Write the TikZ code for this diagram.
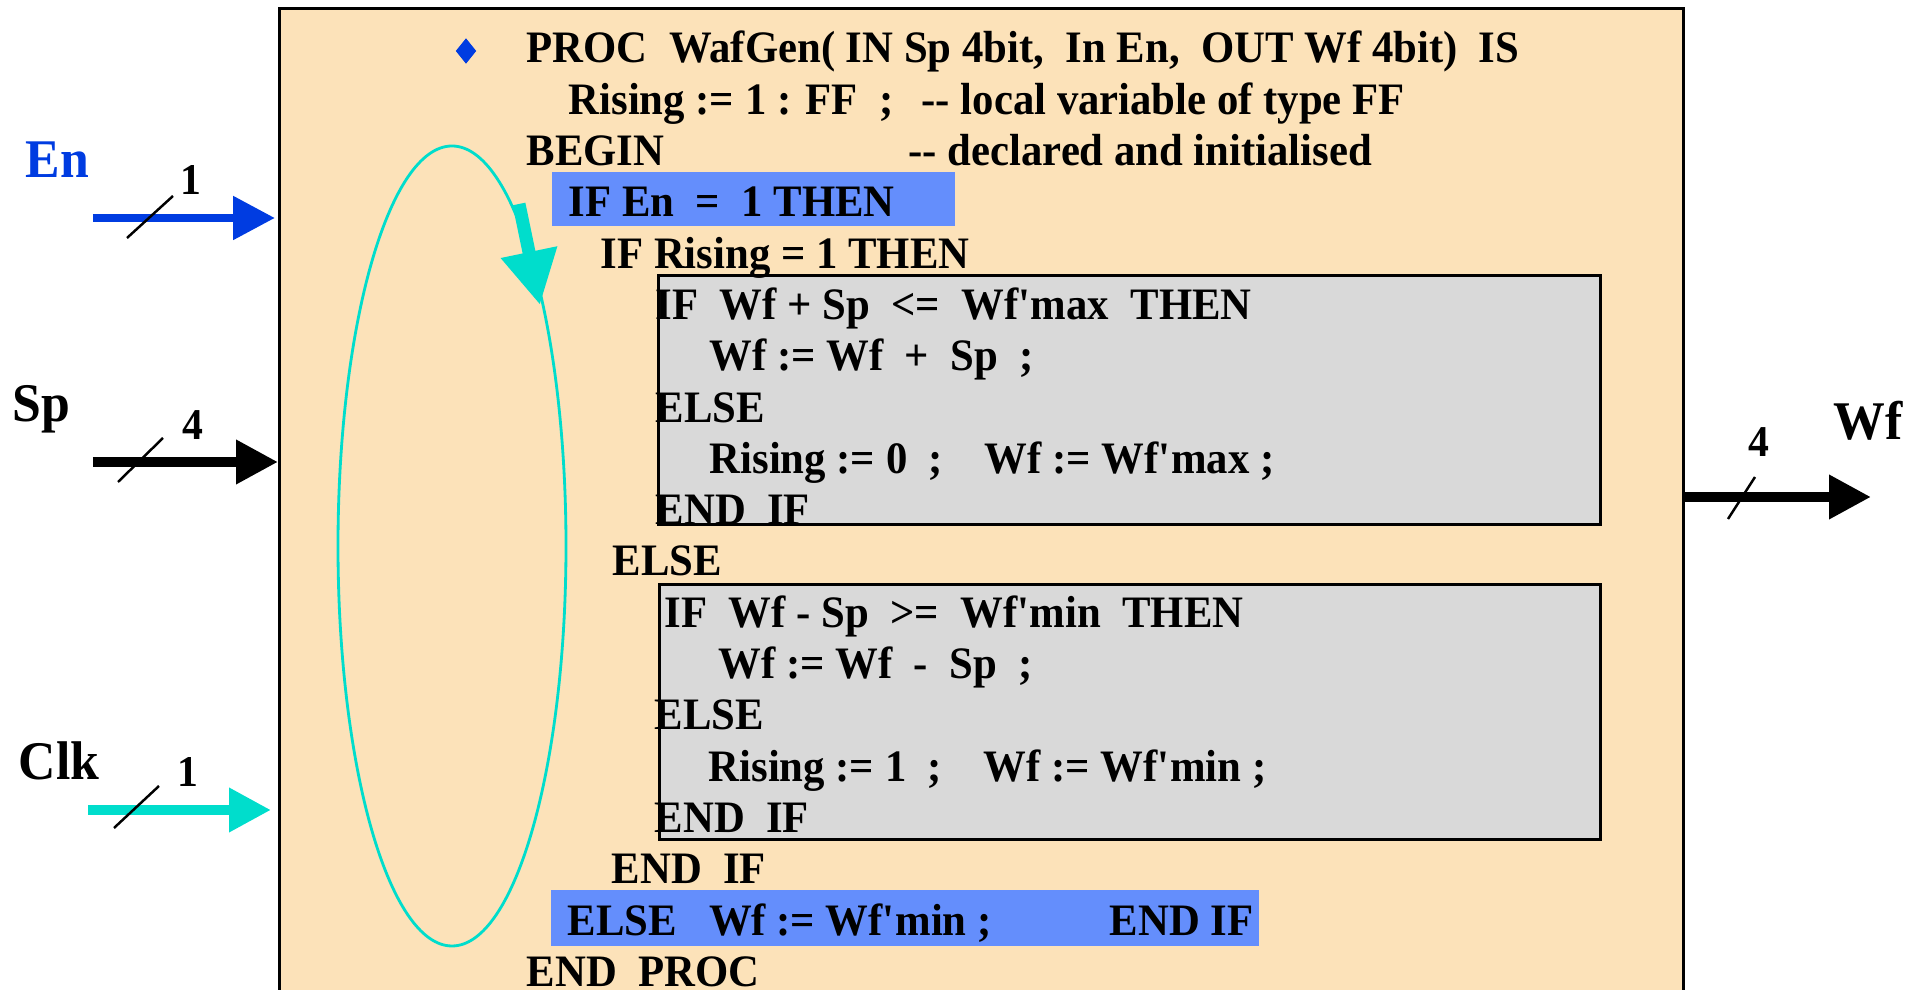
\documentclass[tikz,border=0pt]{standalone}
\usepackage{fontspec}
\setmainfont{Liberation Serif}[FakeStretch=0.95]
\usepackage{xcolor}
\usepackage{tikz}
\usetikzlibrary{shapes.geometric, arrows.meta, positioning}

\definecolor{wheatbg}{RGB}{252,226,185}
\definecolor{blockgray}{RGB}{217,217,217}
\definecolor{hlblue}{RGB}{100,142,252}
\definecolor{enblue}{RGB}{0,60,225}
\definecolor{clkcyan}{RGB}{0,221,204}

\newcommand{\apos}{\textquotesingle}

\tikzset{
    procbox/.style={rectangle, draw, line width=0.9pt, fill=wheatbg, anchor=north west, inner sep=0pt},
    ifblock/.style={rectangle, draw, line width=0.8pt, fill=blockgray, anchor=north west, inner sep=0pt},
    hilite/.style={rectangle, fill=hlblue, anchor=north west, inner sep=0pt},
    code/.style={anchor=base west, inner sep=0pt, font=\bfseries\fontsize{12.8}{15}\selectfont},
    portname/.style={anchor=base west, inner sep=0pt, font=\bfseries\fontsize{15.5}{18}\selectfont},
    buswidth/.style={anchor=base west, inner sep=0pt, font=\bfseries\fontsize{12.5}{15}\selectfont},
    busline/.style={-{Triangle[length=0.42cm, width=0.42cm]}, line width=1mm},
    slash/.style={line width=0.7pt},
    loopline/.style={draw=clkcyan, line width=0.8pt},
    looparrow/.style={-{Triangle[length=0.54cm, width=0.54cm]}, draw=clkcyan, line width=1.3mm}
}

\begin{document}
\begin{tikzpicture}
    \useasboundingbox (0,0) rectangle (19.21,9.90);
    \clip (0,0) rectangle (19.21,9.90);

    % the procedure body
    \node (proc) [procbox, minimum width=14.04cm, minimum height=10.4cm] at (2.78,9.83) {};
    \node (hl1) [hilite, minimum width=4.03cm, minimum height=0.54cm] at (5.51,8.19) {};
    \node (hl2) [hilite, minimum width=7.08cm, minimum height=0.56cm] at (5.50,1.01) {};
    \node (blk1) [ifblock, minimum width=9.42cm, minimum height=2.49cm] at (6.57,7.16) {};
    \node (blk2) [ifblock, minimum width=9.41cm, minimum height=2.55cm] at (6.58,4.07) {};

    % clock loop
    \draw[loopline] (4.52,4.44) ellipse [x radius=1.14, y radius=4.00];
    \coordinate (loop-top) at (5.19,7.86);
    \coordinate (loop-tip) at (5.40,6.85);
    \draw[looparrow] (loop-top) -- (loop-tip);

    \node (bullet) [diamond, fill=enblue, inner sep=0pt, minimum width=0.21cm, minimum height=0.26cm] at (4.66,9.39) {};

    % listing
    \node (ln0) [code] at (5.26,9.270) {PROC~ WafGen( IN Sp 4bit,~ In En,~ OUT Wf 4bit)~ IS};
    \node (ln1) [code] at (5.68,8.757) {Rising := 1 : FF~ ;};
    \node (cm1) [code] at (9.21,8.757) {-{}- local variable of type FF};
    \node (ln2) [code] at (5.26,8.244) {BEGIN};
    \node (cm2) [code] at (9.08,8.244) {-{}- declared and initialised};
    \node (ln3) [code] at (5.68,7.731) {IF En~ =~ 1 THEN};
    \node (ln4) [code] at (6.00,7.218) {IF Rising = 1 THEN};
    \node (ln5) [code] at (6.55,6.705) {IF~ Wf + Sp~ <=~ Wf\apos max~ THEN};
    \node (ln6) [code] at (7.09,6.192) {Wf := Wf~ +~ Sp~ ;};
    \node (ln7) [code] at (6.55,5.679) {ELSE};
    \node (ln8) [code] at (7.09,5.166) {Rising := 0~ ;};
    \node (ln8b) [code] at (9.84,5.166) {Wf := Wf\apos max ;};
    \node (ln9) [code] at (6.55,4.653) {END~ IF};
    \node (ln10) [code] at (6.12,4.140) {ELSE};
    \node (ln11) [code] at (6.64,3.627) {IF~ Wf - Sp~ >=~ Wf\apos min~ THEN};
    \node (ln12) [code] at (7.18,3.114) {Wf := Wf~ -~ Sp~ ;};
    \node (ln13) [code] at (6.54,2.601) {ELSE};
    \node (ln14) [code] at (7.08,2.088) {Rising := 1~ ;};
    \node (ln14b) [code] at (9.83,2.088) {Wf := Wf\apos min ;};
    \node (ln15) [code] at (6.54,1.575) {END~ IF};
    \node (ln16) [code] at (6.11,1.062) {END~ IF};
    \node (ln17) [code] at (5.67,0.549) {ELSE~~ Wf := Wf\apos min ;};
    \node (ln17b) [code] at (11.09,0.549) {END IF};
    \node (ln18) [code] at (5.26,0.036) {END~ PROC};

    % ports
    \coordinate (en-in) at (0.93,7.72);
    \coordinate (sp-in) at (0.93,5.28);
    \coordinate (clk-in) at (0.88,1.80);
    \coordinate (wf-out) at (18.71,4.93);

    \draw[busline, enblue, line width=0.85mm, shorten >=0.03cm] (en-in) -- (en-in -| proc.west);
    \draw[busline] (sp-in) -- (sp-in -| proc.west);
    \draw[busline, clkcyan, shorten >=0.07cm] (clk-in) -- (clk-in -| proc.west);
    \draw[busline] (wf-out -| proc.east) -- (wf-out);

    \draw[slash] (en-in) ++(0.34,-0.20) -- ++(0.46,0.42);
    \draw[slash] (sp-in) ++(0.25,-0.20) -- ++(0.45,0.44);
    \draw[slash] (clk-in) ++(0.26,-0.18) -- ++(0.45,0.42);
    \draw[slash] (wf-out) ++(-1.43,-0.22) -- ++(0.27,0.42);

    \node (en-lbl) [portname, text=enblue] at (0.25,8.12) {En};
    \node (sp-lbl) [portname] at (0.12,5.68) {Sp};
    \node (clk-lbl) [portname] at (0.18,2.10) {Clk};
    \node (wf-lbl) [portname] at (18.33,5.50) {Wf};
    \node (en-w) [buswidth] at (1.80,7.95) {1};
    \node (sp-w) [buswidth] at (1.82,5.50) {4};
    \node (clk-w) [buswidth] at (1.77,2.03) {1};
    \node (wf-w) [buswidth] at (17.48,5.33) {4};
\end{tikzpicture}
\end{document}
